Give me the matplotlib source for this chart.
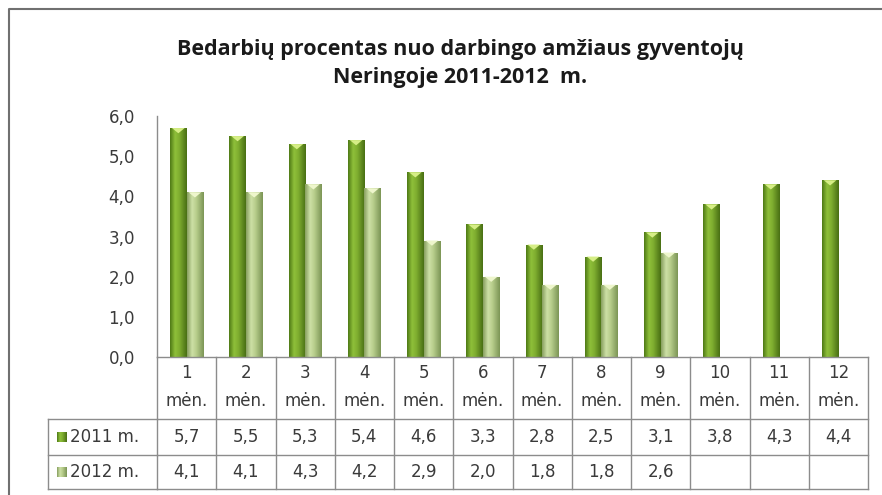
import numpy as np
import matplotlib
matplotlib.use('Agg')
import matplotlib.pyplot as plt
from matplotlib.colors import LinearSegmentedColormap
from matplotlib.transforms import blended_transform_factory
from matplotlib.lines import Line2D
from matplotlib.patches import Rectangle, Polygon

# data
months = ['1', '2', '3', '4', '5', '6', '7', '8', '9', '10', '11', '12']
series_names = ['2011 m.', '2012 m.']
y2011 = [5.7, 5.5, 5.3, 5.4, 4.6, 3.3, 2.8, 2.5, 3.1, 3.8, 4.3, 4.4]
y2012 = [4.1, 4.1, 4.3, 4.2, 2.9, 2.0, 1.8, 1.8, 2.6, None, None, None]
yticks = [0, 1, 2, 3, 4, 5, 6]

W, H = 882, 495
txtcol = '#3a3a3a'
gridcol = '#8c8c8c'
plt.rcParams['font.family'] = 'DejaVu Sans'
fs = 12

fig = plt.figure(figsize=(W / 100, H / 100), dpi=100)
fig.set_facecolor('white')

def fx(x):
    return x / W

def fy(y):
    return 1 - y / H

# plot area in pixels
left, right, top, bottom = 157, 868, 116, 357
ax = fig.add_axes([fx(left), fy(bottom), fx(right - left), (bottom - top) / H])
ax.set_facecolor('white')

# bar colour ramps (edge - highlight - edge)
cm11 = LinearSegmentedColormap.from_list('c11', [(0, '#4e7a16'), (0.3, '#8fc03a'),
                                                 (0.55, '#7fae30'), (1, '#496f14')])
cm12 = LinearSegmentedColormap.from_list('c12', [(0, '#889f60'), (0.3, '#cde0a6'),
                                                 (0.55, '#b8ce8c'), (1, '#7c9556')])
grad = np.linspace(0, 1, 64).reshape(1, -1)

bw = 0.28
x = np.arange(len(months))

def draw_series(vals, offset, cmap, capcol):
    for i, v in enumerate(vals):
        if v is None:
            continue
        x0 = x[i] + offset - bw / 2
        rect = Rectangle((x0, 0), bw, v, facecolor='none', edgecolor='none')
        ax.add_patch(rect)
        im = ax.imshow(grad, cmap=cmap, extent=[x0, x0 + bw, 0, v],
                       aspect='auto', zorder=2, interpolation='bilinear')
        im.set_clip_path(rect)
        cap = Polygon([(x0 + bw * 0.12, v), (x0 + bw * 0.88, v),
                       (x0 + bw * 0.5, v - 0.13)], closed=True,
                      facecolor=capcol, edgecolor='none', zorder=3)
        ax.add_patch(cap)

draw_series(y2011, -0.14, cm11, '#d6ee86')
draw_series(y2012, 0.14, cm12, '#eef6cc')

ax.set_xlim(-0.5, len(months) - 0.5)
ax.set_ylim(0, 6)
ax.set_yticks(yticks)
ax.set_yticklabels([f'{t:.1f}'.replace('.', ',') for t in yticks],
                   fontsize=fs, color=txtcol)
ax.tick_params(axis='y', length=0, pad=16)
ax.set_xticks([])
for s in ['top', 'right', 'bottom']:
    ax.spines[s].set_visible(False)
ax.spines['left'].set_color(gridcol)
ax.spines['left'].set_linewidth(1)

# data table under the plot
tr = blended_transform_factory(ax.transData, fig.transFigure)
rows = [357, 419, 455, 489]
lab_left = 48

def line(xs, ys, t):
    fig.add_artist(Line2D(xs, ys, transform=t, color=gridcol, lw=1))

for r in rows:
    line([-0.5, len(months) - 0.5], [fy(r), fy(r)], tr)
for r in rows[1:]:
    line([fx(lab_left), fx(left)], [fy(r), fy(r)], fig.transFigure)
line([fx(lab_left), fx(lab_left)], [fy(rows[1]), fy(rows[3])], fig.transFigure)
for k in range(len(months) + 1):
    line([k - 0.5, k - 0.5], [fy(rows[0]), fy(rows[3])], tr)

for i, m in enumerate(months):
    fig.text(x[i], fy(373), m, transform=tr, ha='center', va='center',
             fontsize=fs, color=txtcol)
    fig.text(x[i], fy(401), 'mėn.', transform=tr, ha='center', va='center',
             fontsize=fs, color=txtcol)

def fmt(v):
    return '' if v is None else f'{v:.1f}'.replace('.', ',')

for vals, yc in [(y2011, 437), (y2012, 472)]:
    for i, v in enumerate(vals):
        fig.text(x[i], fy(yc), fmt(v), transform=tr, ha='center', va='center',
                 fontsize=fs, color=txtcol)

# legend keys in row labels
for name, yc, cm in [(series_names[0], 437, cm11), (series_names[1], 472, cm12)]:
    kax = fig.add_axes([fx(57), fy(yc + 5), fx(10), 10 / H])
    kax.imshow(grad, cmap=cm, aspect='auto', extent=[0, 1, 0, 1])
    kax.set_axis_off()
    fig.text(fx(70), fy(yc), name, ha='left', va='center',
             fontsize=fs, color=txtcol)

# title
for txt, yy in [('Bedarbių procentas nuo darbingo amžiaus gyventojų', 49),
                ('Neringoje 2011-2012  m.', 77)]:
    fig.text(fx(460), fy(yy), txt, ha='center', va='center', fontsize=15.5,
             fontweight='bold', family='Open Sans', color='#1a1a1a')

# outer chart border (left and top)
fig.add_artist(Line2D([fx(9), fx(9), fx(W)], [0, fy(9), fy(9)],
                      transform=fig.transFigure, color='#707070', lw=1.5))

fig.savefig('out.png', dpi=100)
